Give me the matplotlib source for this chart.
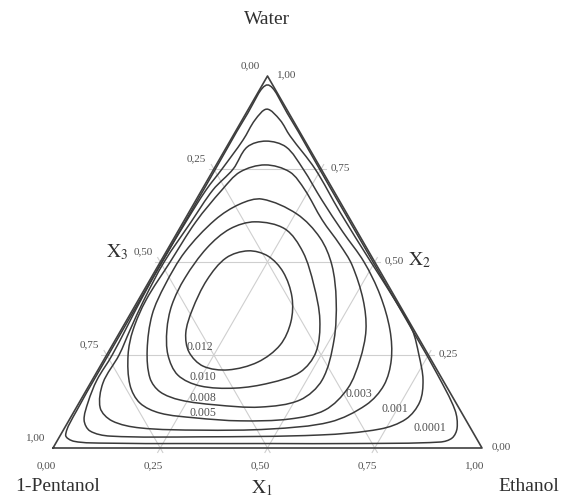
"""
Ternary contour chart: Water / Ethanol / 1-Pentanol
Contour lines are read off the reference chart as mole fractions.
"""

import numpy as np
import matplotlib
matplotlib.use("Agg")
import matplotlib.pyplot as plt
from matplotlib.path import Path
from matplotlib.patches import PathPatch

plt.rcParams["font.family"] = ["Liberation Serif", "DejaVu Serif"]
plt.rcParams["mathtext.fontset"] = "stix"

# ── 1. Data (x1 = ethanol, x2 = water, x3 = 1 - x1 - x2 = 1-pentanol) ─────────
levels = ["0.0001", "0.001", "0.003", "0.005", "0.008", "0.010", "0.012"]

eth_0001 = [0.012, 0.096, 0.296, 0.496, 0.696, 0.795, 0.886, 0.915, 0.917, 0.894, 0.700,
            0.500, 0.300, 0.120, 0.040, 0.012, 0.005, 0.004, 0.004, 0.004, 0.004]
wat_0001 = [0.976, 0.900, 0.700, 0.500, 0.300, 0.200, 0.102, 0.054, 0.027, 0.016, 0.012,
            0.012, 0.012, 0.013, 0.018, 0.035, 0.100, 0.300, 0.500, 0.700, 0.900]

eth_001 = [0.043, 0.088, 0.133, 0.236, 0.352, 0.491, 0.598, 0.679, 0.728, 0.771, 0.793, 0.784,
           0.737, 0.605, 0.328, 0.117, 0.063, 0.035, 0.020, 0.011, 0.013, 0.006, 0.004, 0.006,
           0.010, 0.019, 0.029, 0.030]
wat_001 = [0.911, 0.882, 0.839, 0.750, 0.634, 0.500, 0.398, 0.317, 0.250, 0.183, 0.124, 0.078,
           0.051, 0.035, 0.030, 0.032, 0.046, 0.075, 0.124, 0.183, 0.250, 0.398, 0.500, 0.613,
           0.694, 0.750, 0.828, 0.882]

eth_003 = [0.084, 0.139, 0.208, 0.293, 0.385, 0.475, 0.557, 0.627, 0.670, 0.687, 0.672, 0.611,
           0.480, 0.319, 0.176, 0.101, 0.056, 0.029, 0.029, 0.021, 0.013, 0.009, 0.018, 0.026,
           0.045, 0.048]
wat_003 = [0.825, 0.809, 0.750, 0.667, 0.581, 0.500, 0.411, 0.317, 0.237, 0.169, 0.116, 0.070,
           0.051, 0.048, 0.054, 0.073, 0.108, 0.175, 0.250, 0.317, 0.398, 0.500, 0.608, 0.694,
           0.750, 0.809]

eth_005 = [0.114, 0.181, 0.240, 0.321, 0.396, 0.451, 0.524, 0.571, 0.597, 0.607, 0.583, 0.513,
           0.400, 0.291, 0.202, 0.142, 0.095, 0.050, 0.028, 0.018, 0.023, 0.029, 0.047, 0.065]
wat_005 = [0.761, 0.742, 0.694, 0.613, 0.546, 0.492, 0.398, 0.317, 0.237, 0.161, 0.102, 0.078,
           0.073, 0.081, 0.094, 0.121, 0.169, 0.250, 0.317, 0.398, 0.500, 0.608, 0.694, 0.742]

eth_008 = [0.153, 0.254, 0.340, 0.404, 0.461, 0.510, 0.536, 0.511, 0.428, 0.320, 0.232, 0.174,
           0.132, 0.088, 0.052, 0.042, 0.044, 0.071, 0.108]
wat_008 = [0.669, 0.629, 0.565, 0.492, 0.398, 0.290, 0.183, 0.129, 0.110, 0.116, 0.129, 0.151,
           0.188, 0.263, 0.358, 0.438, 0.527, 0.613, 0.656]

eth_010 = [0.167, 0.246, 0.319, 0.389, 0.450, 0.484, 0.474, 0.418, 0.344, 0.259, 0.193, 0.143,
           0.107, 0.085, 0.079, 0.090, 0.118]
wat_010 = [0.608, 0.589, 0.527, 0.438, 0.344, 0.258, 0.204, 0.175, 0.161, 0.167, 0.196, 0.250,
           0.317, 0.384, 0.457, 0.538, 0.589]

eth_012 = [0.190, 0.243, 0.300, 0.354, 0.385, 0.391, 0.362, 0.303, 0.240, 0.188, 0.155, 0.139,
           0.133, 0.148]
wat_012 = [0.530, 0.516, 0.473, 0.406, 0.339, 0.277, 0.231, 0.210, 0.220, 0.258, 0.309, 0.371,
           0.452, 0.511]

# where each level's label sits (ternary)
label_eth = [0.852, 0.745, 0.641, 0.303, 0.283, 0.254, 0.207]
label_wat = [0.054, 0.105, 0.145, 0.094, 0.134, 0.191, 0.272]

ticks = [0.0, 0.25, 0.50, 0.75, 1.0]
tick_labels = ["0,00", "0,25", "0,50", "0,75", "1,00"]

contours = [(eth_0001, wat_0001), (eth_001, wat_001), (eth_003, wat_003),
            (eth_005, wat_005), (eth_008, wat_008), (eth_010, wat_010), (eth_012, wat_012)]

# ── 2. Ternary -> cartesian ────────────────────────────────────────────────────
H = np.sqrt(3) / 2


def tern(eth, wat):
    eth = np.asarray(eth, dtype=float)
    wat = np.asarray(wat, dtype=float)
    return eth + wat / 2, wat * H


def smooth_closed_path(x, y):
    """Closed curve through the read points (chord-length Hermite -> cubic Bezier)."""
    p = np.column_stack([x, y])
    n = len(p)
    d = np.linalg.norm(np.roll(p, -1, axis=0) - p, axis=1)  # d[i] = |p[i+1]-p[i]|
    tang = np.array([(p[(i + 1) % n] - p[i - 1]) / (d[i - 1] + d[i]) for i in range(n)])
    verts = [p[0]]
    codes = [Path.MOVETO]
    for i in range(n):
        j = (i + 1) % n
        verts += [p[i] + tang[i] * d[i] / 3, p[j] - tang[j] * d[i] / 3, p[j]]
        codes += [Path.CURVE4] * 3
    return Path(verts, codes)


# ── 3. Figure ─────────────────────────────────────────────────────────────────
fig = plt.figure(figsize=(5.68, 4.99), dpi=100)
ax = fig.add_axes([53 / 568, 51 / 499, 429 / 568, 372 / 499])
ax.set_xlim(0, 1)
ax.set_ylim(0, H)
ax.axis("off")

grid_kw = dict(color="#cfcfcf", lw=0.8, zorder=1, clip_on=False)
ext = 0.012
for v in ticks[1:-1]:
    # water = v (horizontal)
    x, y = tern([-ext, 1 - v + ext], [v, v])
    ax.plot(x, y, **grid_kw)
    # ethanol = v (parallel to left side)
    x, y = tern([v, v], [-ext, 1 - v + ext])
    ax.plot(x, y, **grid_kw)
    # pentanol = v  (parallel to right side)
    x, y = tern([1 - v + ext, -ext], [-ext, 1 - v + ext])
    ax.plot(x, y, **grid_kw)

# triangle frame
x, y = tern([0, 1, 0, 0], [0, 0, 1, 0])
ax.plot(x, y, color="#404040", lw=1.2, zorder=3, clip_on=False)

# contour lines
for eth, wat in contours:
    x, y = tern(eth, wat)
    ax.add_patch(PathPatch(smooth_closed_path(x, y), fill=False, edgecolor="#3a3a3a",
                           lw=1.1, zorder=4, clip_on=False))

# contour labels
for lab, e, w in zip(levels, label_eth, label_wat):
    x, y = tern(e, w)
    ax.text(x, y, lab, fontsize=8.5, color="#505050", ha="center", va="center", zorder=5)

# ── 4. Axis tick labels ───────────────────────────────────────────────────────
tick_kw = dict(textcoords="offset points", fontsize=8, color="#505050", va="center")
for v, lab in zip(ticks, tick_labels):
    # x3 (pentanol) along the left side
    ax.annotate(lab, tern(0, 1 - v), xytext=(-12.5, 7.5), ha="center", **tick_kw)
    # x2 (water) along the right side
    ax.annotate(lab, tern(1 - v, v), xytext=(14, 0.8), ha="center", **tick_kw)
    # x1 (ethanol) along the bottom
    ax.annotate(lab, tern(v, 0), xytext=(-5, -12.5), ha="center", **tick_kw)

title_kw = dict(textcoords="offset points", fontsize=14, color="#303030",
                ha="center", va="center")
ax.annotate(r"$\mathrm{X}_1$", tern(0.5, 0), xytext=(-4, -29), **title_kw)
ax.annotate(r"$\mathrm{X}_2$", tern(0.5, 0.5), xytext=(32, 1), **title_kw)
ax.annotate(r"$\mathrm{X}_3$", tern(0, 0.5), xytext=(-31, 7), **title_kw)

ax.annotate("Water", tern(0, 1), xytext=(0, 41), **title_kw)
ax.annotate("1-Pentanol", tern(0, 0), xytext=(3, -28), **title_kw)
ax.annotate("Ethanol", tern(1, 0), xytext=(34, -28), **title_kw)

fig.savefig("out.png", dpi=100)
